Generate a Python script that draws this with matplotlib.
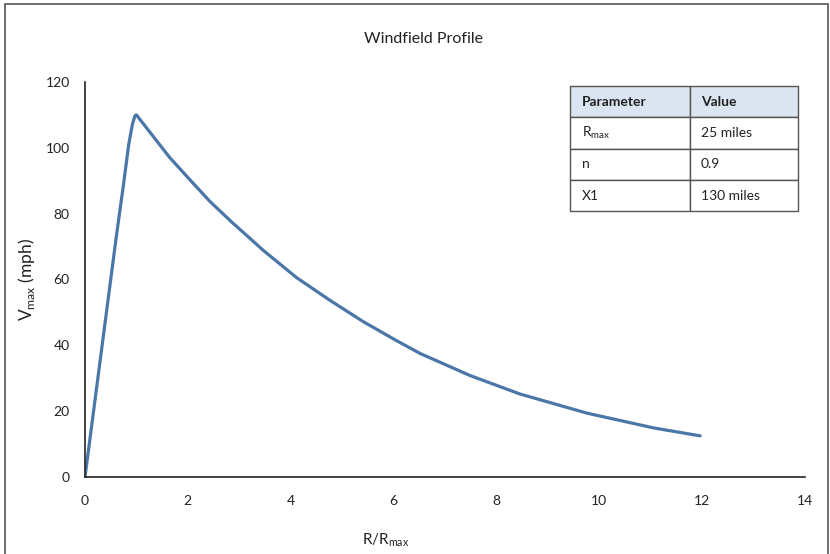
import matplotlib.pyplot as plt
from matplotlib.patches import Rectangle

# curve
r_ratio = [0, 0.45, 0.6, 0.75, 0.85, 0.92, 0.97, 1.0, 1.05, 1.26, 1.65, 2.04, 2.43, 2.85,
           3.47, 4.12, 4.77, 5.41, 6.06, 6.52, 7.49, 8.46, 9.76, 11.06, 11.96]
v_max = [0, 54, 72, 89, 101, 107, 109.7, 110, 109, 104.8, 97, 90.3, 83.7, 77.5,
         68.8, 60.5, 53.6, 47.2, 41.4, 37.5, 30.8, 25.2, 19.4, 14.9, 12.5]

x_ticks = [0, 2, 4, 6, 8, 10, 12, 14]
y_ticks = [0, 20, 40, 60, 80, 100, 120]

table_header = ['Parameter', 'Value']
table_params = ['R$_{\\mathregular{max}}$', 'n', 'X1']
table_values = ['25 miles', '0.9', '130 miles']

plt.rcParams['font.family'] = ['Lato', 'DejaVu Sans']

fig = plt.figure(figsize=(8.3, 5.54), dpi=100)
ax = fig.add_axes([0.1024, 0.139, 0.8675, 0.713])

ax.plot(r_ratio, v_max, color='#4a76a8', lw=2.3, solid_joinstyle='round', solid_capstyle='round')
ax.set_xlim(0, 14)
ax.set_ylim(0, 120)
ax.set_xticks(x_ticks)
ax.set_yticks(y_ticks)
ax.tick_params(axis='x', length=0, labelsize=10, colors='#222222', pad=13)
ax.tick_params(axis='y', length=0, labelsize=10, colors='#222222', pad=11)
for s in ['top', 'right']:
    ax.spines[s].set_visible(False)
for s in ['left', 'bottom']:
    ax.spines[s].set_color('#222222')
    ax.spines[s].set_linewidth(1.2)

fig.text(0.51, 0.93, 'Windfield Profile', ha='center', va='center', fontsize=11.5, color='#222222')
fig.text(0.032, 0.495, 'V$_{\\mathregular{max}}$ (mph)', rotation=90, ha='center', va='center',
         fontsize=12.5, color='#222222')
fig.text(0.465, 0.025, 'R/R$_{\\mathregular{max}}$', ha='center', va='center', fontsize=11, color='#222222')

# parameter table
rows = [table_header] + [[p, v] for p, v in zip(table_params, table_values)]
tbl = ax.table(cellText=rows, cellLoc='left', colWidths=[0.526, 0.474],
               bbox=[0.674, 0.673, 0.316, 0.317])
tbl.auto_set_font_size(False)
for (i, j), cell in tbl.get_celld().items():
    cell.set_edgecolor('#555555')
    cell.set_linewidth(1.0)
    cell.PAD = 0.1
    cell.get_text().set_fontsize(10)
    cell.get_text().set_color('#222222')
    if i == 0:
        cell.set_facecolor('#dbe5f1')
        cell.get_text().set_fontweight('bold')

fig.add_artist(Rectangle((0.006, -0.01), 0.991, 1.003, transform=fig.transFigure,
                         fill=False, edgecolor='#555555', lw=1.2))

fig.savefig('out.png', dpi=100)
